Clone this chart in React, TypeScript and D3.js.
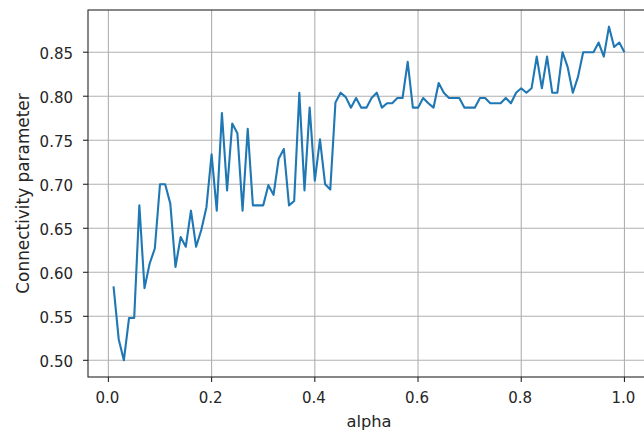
import React from "react";
import * as d3 from "d3";

// Sweep of alpha and the resulting connectivity parameter
const alphaValues: number[] = [
  0.01, 0.02, 0.03, 0.04, 0.05, 0.06, 0.07, 0.08, 0.09, 0.10,
  0.11, 0.12, 0.13, 0.14, 0.15, 0.16, 0.17, 0.18, 0.19, 0.20,
  0.21, 0.22, 0.23, 0.24, 0.25, 0.26, 0.27, 0.28, 0.29, 0.30,
  0.31, 0.32, 0.33, 0.34, 0.35, 0.36, 0.37, 0.38, 0.39, 0.40,
  0.41, 0.42, 0.43, 0.44, 0.45, 0.46, 0.47, 0.48, 0.49, 0.50,
  0.51, 0.52, 0.53, 0.54, 0.55, 0.56, 0.57, 0.58, 0.59, 0.60,
  0.61, 0.62, 0.63, 0.64, 0.65, 0.66, 0.67, 0.68, 0.69, 0.70,
  0.71, 0.72, 0.73, 0.74, 0.75, 0.76, 0.77, 0.78, 0.79, 0.80,
  0.81, 0.82, 0.83, 0.84, 0.85, 0.86, 0.87, 0.88, 0.89, 0.90,
  0.91, 0.92, 0.93, 0.94, 0.95, 0.96, 0.97, 0.98, 0.99, 1.00,
];

const connectivity: number[] = [
  0.584, 0.524, 0.500, 0.548, 0.548, 0.676, 0.582, 0.610, 0.627, 0.700,
  0.700, 0.678, 0.606, 0.640, 0.629, 0.670, 0.629, 0.648, 0.674, 0.734,
  0.670, 0.781, 0.693, 0.769, 0.758, 0.670, 0.763, 0.676, 0.676, 0.676,
  0.699, 0.688, 0.729, 0.740, 0.676, 0.681, 0.804, 0.693, 0.787, 0.704,
  0.751, 0.700, 0.694, 0.793, 0.804, 0.799, 0.787, 0.798, 0.787, 0.787,
  0.798, 0.804, 0.787, 0.792, 0.792, 0.798, 0.798, 0.839, 0.787, 0.787,
  0.798, 0.792, 0.787, 0.815, 0.804, 0.798, 0.798, 0.798, 0.787, 0.787,
  0.787, 0.798, 0.798, 0.792, 0.792, 0.792, 0.798, 0.792, 0.804, 0.809,
  0.804, 0.809, 0.845, 0.809, 0.845, 0.804, 0.804, 0.850, 0.833, 0.804,
  0.822, 0.850, 0.850, 0.850, 0.861, 0.845, 0.879, 0.856, 0.861, 0.850,
];

const xTicks: number[] = [0.0, 0.2, 0.4, 0.6, 0.8, 1.0];
const yTicks: number[] = [0.5, 0.55, 0.6, 0.65, 0.7, 0.75, 0.8, 0.85];

const WIDTH = 644;
const HEIGHT = 432;
const box = { left: 88, right: 650, top: 10, bottom: 377 };

const FONT = "'DejaVu Sans', sans-serif";
const TEXT_COLOR = "#262626";
const LINE_COLOR = "#1f77b4";
const GRID_COLOR = "#b0b0b0";

export default function App() {
  const xMin = d3.min(alphaValues)!;
  const xMax = d3.max(alphaValues)!;
  const yMin = d3.min(connectivity)!;
  const yMax = d3.max(connectivity)!;
  const xPad = (xMax - xMin) * 0.05;
  const yPad = (yMax - yMin) * 0.05;

  const x = d3
    .scaleLinear()
    .domain([xMin - xPad, xMax + xPad])
    .range([box.left, box.right]);
  const y = d3
    .scaleLinear()
    .domain([yMin - yPad, yMax + yPad])
    .range([box.bottom, box.top]);

  const points = alphaValues.map((a, i) => [a, connectivity[i]] as [number, number]);
  const line = d3
    .line<[number, number]>()
    .x((d) => x(d[0]))
    .y((d) => y(d[1]));

  const fx = d3.format(".1f");
  const fy = d3.format(".2f");

  return (
    <div style={{ position: "fixed", left: 0, top: 0, background: "#fff" }}>
      <svg width={WIDTH} height={HEIGHT} style={{ display: "block" }}>
        <rect x={0} y={0} width={WIDTH} height={HEIGHT} fill="#fff" />
        <defs>
          <clipPath id="plot-area">
            <rect
              x={box.left}
              y={box.top}
              width={box.right - box.left}
              height={box.bottom - box.top}
            />
          </clipPath>
        </defs>

        {/* grid */}
        <g stroke={GRID_COLOR} strokeWidth={1.1}>
          {xTicks.map((t) => (
            <line key={"gx" + t} x1={x(t)} x2={x(t)} y1={box.top} y2={box.bottom} />
          ))}
          {yTicks.map((t) => (
            <line key={"gy" + t} x1={box.left} x2={box.right} y1={y(t)} y2={y(t)} />
          ))}
        </g>

        {/* series */}
        <path
          d={line(points) ?? ""}
          fill="none"
          stroke={LINE_COLOR}
          strokeWidth={2.1}
          strokeLinejoin="round"
          strokeLinecap="butt"
          clipPath="url(#plot-area)"
        />

        {/* spines */}
        <rect
          x={box.left}
          y={box.top}
          width={box.right - box.left}
          height={box.bottom - box.top}
          fill="none"
          stroke={TEXT_COLOR}
          strokeWidth={1.1}
        />

        {/* axes ticks and labels */}
        <g fontFamily={FONT} fontSize={15} fill={TEXT_COLOR}>
          {xTicks.map((t) => (
            <g key={"xt" + t}>
              <line x1={x(t)} x2={x(t)} y1={box.bottom} y2={box.bottom + 5} stroke={TEXT_COLOR} strokeWidth={1.1} />
              <text x={x(t) - 1} y={box.bottom + 25.5} textAnchor="middle">
                {fx(t)}
              </text>
            </g>
          ))}
          {yTicks.map((t) => (
            <g key={"yt" + t}>
              <line x1={box.left - 5} x2={box.left} y1={y(t)} y2={y(t)} stroke={TEXT_COLOR} strokeWidth={1.1} />
              <text x={box.left - 15} y={y(t)} dy="0.42em" textAnchor="end">
                {fy(t)}
              </text>
            </g>
          ))}
          <text x={(box.left + box.right) / 2} y={426.5} textAnchor="middle" fontSize={16.3}>
            alpha
          </text>
          <text
            transform={`translate(28.5, ${(93 + 294) / 2}) rotate(-90)`}
            textAnchor="middle"
            fontSize={16.9}
          >
            Connectivity parameter
          </text>
        </g>
      </svg>
    </div>
  );
}
